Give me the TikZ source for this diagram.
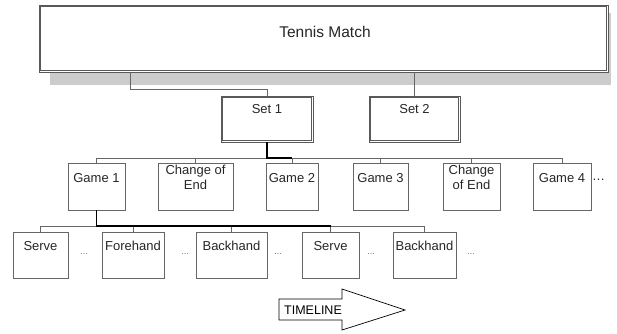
\documentclass[tikz,border=0pt]{standalone}
\usepackage{fontspec}
\setmainfont{Liberation Sans}
\begin{document}
\begin{tikzpicture}[x=1pt,y=-1pt,
  dbox/.style={draw=black!65, line width=0.8pt, rectangle, inner sep=0pt},
  inbox/.style={draw=black!65, line width=0.8pt},
  sbox/.style={draw=black!60, line width=0.9pt, rectangle, inner sep=0pt},
  txt/.style={inner sep=0pt, text=black!85, font=\fontsize{13}{15}\selectfont, align=center},
  conn/.style={draw=black!60, line width=0.8pt},
  bold/.style={draw=black, line width=1.4pt},
  dots/.style={inner sep=0pt, text=black!55, font=\fontsize{9}{10}\selectfont}]
\useasboundingbox (0,0) rectangle (617,333);
% shadow
\fill[black!20] (50,13) rectangle (611,85);
% top box
\node[dbox, fill=white, minimum width=569, minimum height=67] (tm) at (323.5,38.5) {};
\draw[inbox] ([shift={(2.2,2.2)}]tm.north west) rectangle ([shift={(-2.2,-2.2)}]tm.south east);
\node[txt, font=\fontsize{15.5}{18}\selectfont] (tmt) at (325,32) {Tennis Match};
% sets
\node[dbox, minimum width=92, minimum height=46] (s1) at (267,119) {};
\draw[inbox] ([shift={(2.2,2.2)}]s1.north west) rectangle ([shift={(-2.2,-2.2)}]s1.south east);
\node[txt] (s1t) at (267,109) {Set 1};
\node[dbox, minimum width=91, minimum height=46] (s2) at (414.5,119) {};
\draw[inbox] ([shift={(2.2,2.2)}]s2.north west) rectangle ([shift={(-2.2,-2.2)}]s2.south east);
\node[txt] (s2t) at (414.5,109) {Set 2};
% games
\node[sbox, minimum width=57, minimum height=47] (g1) at (96.5,186.5) {};
\node[txt] (g1t) at (96.5,178) {Game 1};
\node[sbox, minimum width=75, minimum height=47] (c1) at (195.5,186.5) {};
\node[txt] (c1t) at (195.5,177.5) {Change of\\End};
\node[sbox, minimum width=52, minimum height=47] (g2) at (292,186.5) {};
\node[txt] (g2t) at (292,178) {Game 2};
\node[sbox, minimum width=55, minimum height=47] (g3) at (380.5,186.5) {};
\node[txt] (g3t) at (380.5,178) {Game 3};
\node[sbox, minimum width=57, minimum height=47] (c2) at (471.5,186.5) {};
\node[txt] (c2t) at (471.5,177.5) {Change\\of End};
\node[sbox, minimum width=58, minimum height=47] (g4) at (562,186.5) {};
\node[txt] (g4t) at (562,178) {Game 4};
\node[txt, anchor=west] (gd) at (592,180) {\dots};
% shots
\node[sbox, minimum width=55, minimum height=46] (h1) at (40.5,255) {};
\node[txt] (h1t) at (40.5,246) {Serve};
\node[sbox, minimum width=62, minimum height=46] (h2) at (133,255) {};
\node[txt] (h2t) at (133,246) {Forehand};
\node[sbox, minimum width=71, minimum height=46] (h3) at (231.5,255) {};
\node[txt] (h3t) at (231.5,246) {Backhand};
\node[sbox, minimum width=57, minimum height=46] (h4) at (330.5,255) {};
\node[txt] (h4t) at (330.5,246) {Serve};
\node[sbox, minimum width=63, minimum height=46] (h5) at (424.5,255) {};
\node[txt] (h5t) at (424.5,246) {Backhand};
\node[dots] (d1) at (84,254) {...};
\node[dots] (d2) at (185,254) {...};
\node[dots] (d3) at (278,254) {...};
\node[dots] (d4) at (371,254) {...};
\node[dots] (d5) at (471,254) {...};
% connectors top
\coordinate (j1) at (130,89);
\draw[conn] (j1 |- tm.south) -- (j1) -| (s1.north);
\draw[conn] (s2.north |- tm.south) -- (s2.north);
% game bus
\coordinate (gb) at (0,158);
\draw[conn] (g1.north |- gb) -- (g4.north |- gb);
\foreach \n in {g1,c1,g2,g3,c2,g4} \draw[conn] (\n.north |- gb) -- (\n.north);
\draw[bold] (s1.south) -- (s1.south |- gb) -- (g2.north |- gb);
% shot bus
\coordinate (hb) at (0,226);
\draw[conn] (h1.north |- hb) -- (h5.north |- hb);
\foreach \n in {h1,h2,h3,h4,h5} \draw[conn] (\n.north |- hb) -- (\n.north);
\draw[bold] (g1.south) -- (g1.south |- hb) -- (h4.north |- hb);
% timeline arrow
\draw[black, line width=0.7pt] (279,299) -- (342,299) -- (342,289) -- (405,310) -- (342,330) -- (342,320) -- (279,320) -- cycle;
\node[txt, anchor=west, text=black, font=\fontsize{12.5}{15}\selectfont] (tl) at (284,310.5) {TIMELINE};
\end{tikzpicture}
\end{document}
